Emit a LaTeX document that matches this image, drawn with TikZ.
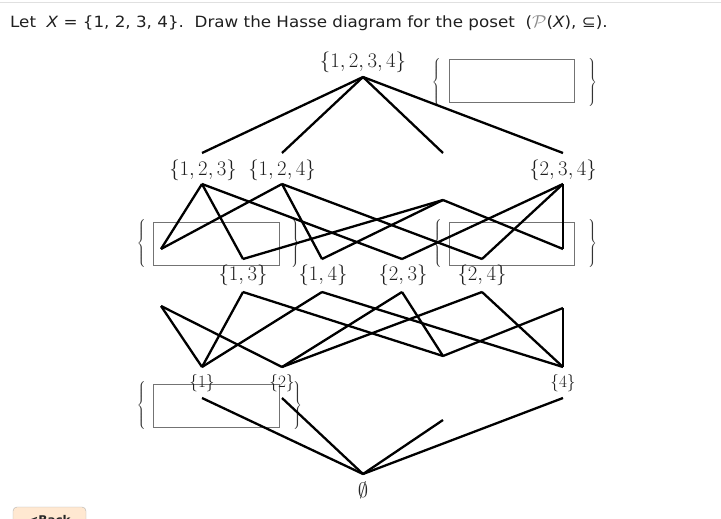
\documentclass[tikz,border=0pt]{standalone}
\usepackage{fontspec}
\newfontfamily\hdr{DejaVu Sans}
\begin{document}
\begin{tikzpicture}[x=1pt,y=-1pt,
  edge/.style={line width=2.3pt, black},
  lbl/.style={font=\fontsize{21}{24}\selectfont, text=black!88, inner sep=0pt},
  slbl/.style={font=\fontsize{16}{19}\selectfont, text=black!88, inner sep=0pt},
  blank/.style={draw=black!55, line width=1pt},
  brc/.style={text=black!80, inner sep=0pt, font=\fontsize{10}{12}\selectfont}]
\useasboundingbox (0,0) rectangle (721,519);
% top separator
\draw[black!12, line width=1pt] (0,3) -- (721,3);
% header
\node[anchor=base west, inner sep=0pt, font=\hdr\fontsize{15.5}{18}\selectfont, text=black!88] (hdr) at (10,28)
  {\scalebox{1.08}[1]{Let\ \ {\itshape X} = \{1, 2, 3, 4\}.\ \ Draw the Hasse diagram for the poset\ \ ({\color{black!45}\fontsize{19}{20}\selectfont$\mathcal{P}$}({\itshape X}), ⊆).}};
% back button
\draw[draw=black!30, fill=orange!18, rounded corners=4pt] (13,507) rectangle (86,535);
\node[anchor=base, inner sep=0pt, font=\hdr\bfseries\fontsize{12}{14}\selectfont, text=black!85] (back) at (49.5,524) {<Back};
% coordinates
\coordinate (T) at (363,77);
\coordinate (a1) at (202,153); \coordinate (a2) at (282,153);
\coordinate (a3) at (443,153); \coordinate (a4) at (563,153);
\coordinate (n123) at (202,184); \coordinate (n124) at (282,184);
\coordinate (n134) at (443,200); \coordinate (n234) at (563,184);
\coordinate (n12) at (161,249); \coordinate (n13) at (243,259);
\coordinate (n14) at (322,259); \coordinate (n23) at (402,259);
\coordinate (n24) at (482,259); \coordinate (n34) at (563,249);
\coordinate (m12) at (161,306); \coordinate (m13) at (243,292);
\coordinate (m14) at (322,292); \coordinate (m23) at (402,292);
\coordinate (m24) at (482,292); \coordinate (m34) at (563,308);
\coordinate (p1) at (202,367); \coordinate (p2) at (282,367);
\coordinate (p3) at (443,356); \coordinate (p4) at (563,367);
\coordinate (q1) at (202,398); \coordinate (q2) at (282,398);
\coordinate (q3) at (443,420); \coordinate (q4) at (563,398);
\coordinate (B) at (363,474);
% answer boxes
\draw[blank] (449,60) rectangle (574,103);
\draw[blank] (153,222) rectangle (279,265);
\draw[blank] (449,222) rectangle (574,265);
\draw[blank] (153,384) rectangle (279,427);
% braces
\node[brc] (b1l) at (437,83) {$\left\{\vrule height 23pt depth 23pt width 0pt\right.$};
\node[brc] (b1r) at (592,83) {$\left.\vrule height 23pt depth 23pt width 0pt\right\}$};
\node[brc] (b2l) at (142,244) {$\left\{\vrule height 23pt depth 23pt width 0pt\right.$};
\node[brc] (b2r) at (295,244) {$\left.\vrule height 23pt depth 23pt width 0pt\right\}$};
\node[brc] (b3l) at (438,244) {$\left\{\vrule height 23pt depth 23pt width 0pt\right.$};
\node[brc] (b3r) at (592,244) {$\left.\vrule height 23pt depth 23pt width 0pt\right\}$};
\node[brc] (b4l) at (142,406) {$\left\{\vrule height 23pt depth 23pt width 0pt\right.$};
\node[brc] (b4r) at (297,406) {$\left.\vrule height 23pt depth 23pt width 0pt\right\}$};
% edges top
\draw[edge] (T) -- (a1); \draw[edge] (T) -- (a2);
\draw[edge] (T) -- (a3); \draw[edge] (T) -- (a4);
% level 3 to level 2
\draw[edge] (n123) -- (n12); \draw[edge] (n123) -- (n13); \draw[edge] (n123) -- (n23);
\draw[edge] (n124) -- (n12); \draw[edge] (n124) -- (n14); \draw[edge] (n124) -- (n24);
\draw[edge] (n134) -- (n13); \draw[edge] (n134) -- (n14); \draw[edge] (n134) -- (n34);
\draw[edge] (n234) -- (n23); \draw[edge] (n234) -- (n24); \draw[edge] (n234) -- (n34);
% level 2 to level 1
\draw[edge] (m12) -- (p1); \draw[edge] (m12) -- (p2);
\draw[edge] (m13) -- (p1); \draw[edge] (m13) -- (p3);
\draw[edge] (m14) -- (p1); \draw[edge] (m14) -- (p4);
\draw[edge] (m23) -- (p2); \draw[edge] (m23) -- (p3);
\draw[edge] (m24) -- (p2); \draw[edge] (m24) -- (p4);
\draw[edge] (m34) -- (p3); \draw[edge] (m34) -- (p4);
% bottom
\draw[edge] (B) -- (q1); \draw[edge] (B) -- (q2);
\draw[edge] (B) -- (q3); \draw[edge] (B) -- (q4);
% labels
\node[lbl] (l1234) at (363,62) {$\{1,2,3,4\}$};
\node[lbl] (l123) at (203,170) {$\{1,2,3\}$};
\node[lbl] (l124) at (282,170) {$\{1,2,4\}$};
\node[lbl] (l234) at (563,170) {$\{2,3,4\}$};
\node[lbl] (l13) at (243,275) {$\{1,3\}$};
\node[lbl] (l14) at (323,275) {$\{1,4\}$};
\node[lbl] (l23) at (403,275) {$\{2,3\}$};
\node[lbl] (l24) at (482,275) {$\{2,4\}$};
\node[slbl] (l1) at (202,383) {$\{1\}$};
\node[slbl] (l2) at (282,383) {$\{2\}$};
\node[slbl] (l4) at (563,383) {$\{4\}$};
\node[inner sep=0pt, text=black!85, font=\fontsize{20}{24}\selectfont] (l0) at (363,490) {$\emptyset$};
\end{tikzpicture}
\end{document}
